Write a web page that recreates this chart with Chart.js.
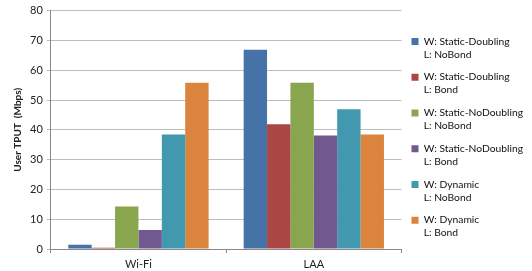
<!DOCTYPE html>
<html>
<head>
<meta charset="utf-8">
<script src="https://cdn.jsdelivr.net/npm/chart.js@4/dist/chart.umd.min.js"></script>
<style>
  body { margin: 0; background: #fff; }
  #wrap { width: 532px; height: 271px; }
</style>
</head>
<body>
<div id="wrap"><canvas id="tputChart" width="532" height="271"></canvas></div>
<script>
var categories = ["Wi-Fi", "LAA"];
var seriesNames = [
    ["W: Static-Doubling", "L: NoBond"],
    ["W: Static-Doubling", "L: Bond"],
    ["W: Static-NoDoubling", "L: NoBond"],
    ["W: Static-NoDoubling", "L: Bond"],
    ["W: Dynamic", "L: NoBond"],
    ["W: Dynamic", "L: Bond"]
];
var staticDoublingNoBond = [1.4, 66.9];
var staticDoublingBond = [0.4, 41.9];
var staticNoDoublingNoBond = [14.3, 55.8];
var staticNoDoublingBond = [6.4, 38.1];
var dynamicNoBond = [38.4, 46.9];
var dynamicBond = [55.8, 38.4];
var colors = ["#4572A7", "#AA4643", "#89A54E", "#71588F", "#4198AF", "#DB843D"];

var seriesValues = [staticDoublingNoBond, staticDoublingBond, staticNoDoublingNoBond,
    staticNoDoublingBond, dynamicNoBond, dynamicBond];

var datasets = seriesValues.map(function (vals, i) {
    return {
        label: seriesNames[i],
        data: vals,
        backgroundColor: colors[i],
        borderWidth: 0
    };
});

Chart.defaults.font.family = "Lato, 'Liberation Sans', sans-serif";
Chart.defaults.color = "#222";

var ctx = document.getElementById("tputChart").getContext('2d');
var myChart = new Chart(ctx, {
    type: 'bar',
    data: {
        labels: categories,
        datasets: datasets
    },
    options: {
        responsive: false,
        animation: false,
        layout: { padding: { top: 6, right: 0, left: 10, bottom: 0 } },
        datasets: { bar: { categoryPercentage: 0.8, barPercentage: 1.0 } },
        plugins: {
            tooltip: { enabled: false },
            legend: {
                position: 'right',
                labels: {
                    boxWidth: 7,
                    boxHeight: 7,
                    padding: 10,
                    font: { size: 10.3, lineHeight: 1.25 },
                    color: "#111"
                }
            }
        },
        scales: {
            x: {
                grid: {
                    offset: true,
                    drawOnChartArea: false,
                    drawTicks: true,
                    tickLength: 4,
                    color: "#888"
                },
                border: { color: "#888" },
                ticks: { font: { size: 11, lineHeight: 1 }, padding: 6 },
                afterFit: function (scale) { scale.height = 22; }
            },
            y: {
                min: 0,
                max: 80,
                ticks: { stepSize: 10, font: { size: 11 }, padding: 4 },
                grid: { color: "#bdbdbd", tickLength: 4 },
                border: { color: "#888" },
                title: {
                    display: true,
                    text: "User TPUT  (Mbps)",
                    font: { size: 10, weight: 'bold' },
                    padding: 2
                }
            }
        }
    }
});
</script>
</body>
</html>
